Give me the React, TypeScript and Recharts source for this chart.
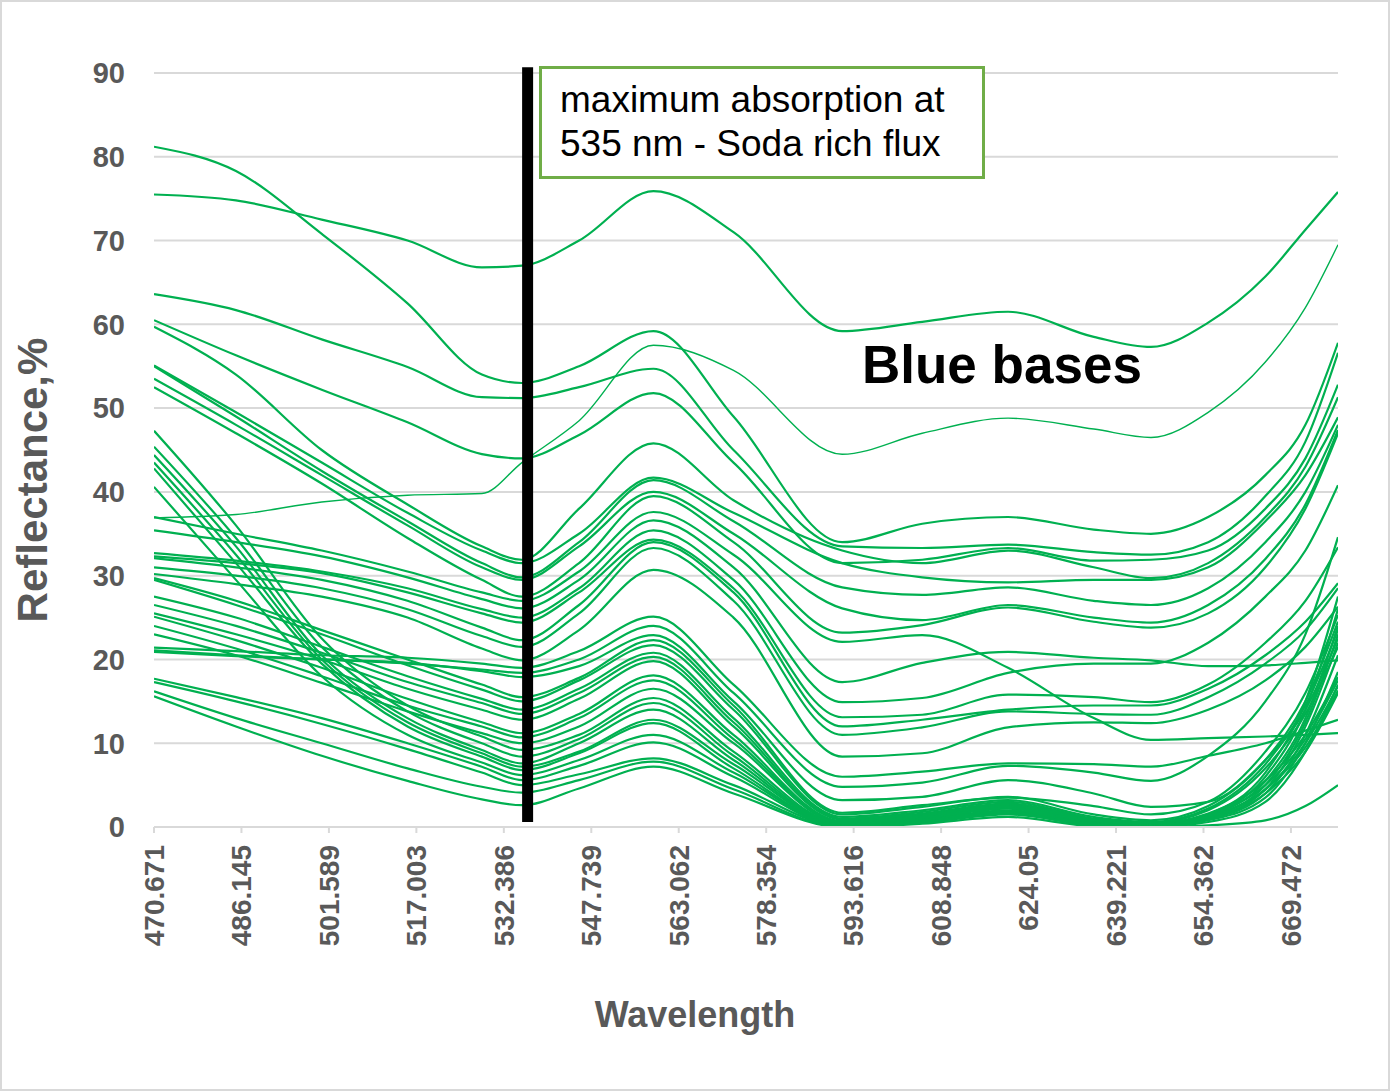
import React from "react";
import { LineChart, Line, XAxis, YAxis, CartesianGrid, ReferenceLine } from "recharts";

// wavelengths (nm) at which every spectrum is sampled
const wavelengths = [470.671, 485, 500, 515, 528, 535, 545, 558, 572, 591, 605, 620, 635, 645, 655, 665, 672, 677.7];

// reflectance, % - upper curves
const spectrum01 = [75.5, 74.8, 72.5, 70, 66.8, 67, 70, 75.9, 71, 59.2, 60.3, 61.5, 58.5, 57.3, 60.2, 65.7, 71.3, 75.8];
const spectrum02 = [81.2, 78.3, 70.8, 62.5, 54, 53, 55, 59.2, 49, 34, 36.2, 37, 35.5, 35, 37, 42, 48, 57.8];
const spectrum03 = [63.6, 61.7, 58.2, 54.9, 51.3, 51.2, 52.5, 54.7, 45, 33.5, 33.3, 33.7, 32.8, 32.5, 34, 39.5, 46, 56.6];
const spectrum04 = [36.9, 37.3, 38.8, 39.6, 39.8, 43.5, 48.5, 57.5, 54.5, 44.5, 47, 48.8, 47.5, 46.5, 49.5, 55.5, 62, 69.5];
const spectrum05 = [60.5, 56.3, 52.2, 48.3, 44.5, 44, 46.8, 51.8, 43.5, 31.5, 31.9, 33.3, 31.8, 31.9, 33, 38, 44, 52.8];

// middle curves
const spectrum06 = [59.7, 54, 45, 38.5, 33.5, 31.9, 38, 45.8, 39, 33, 31.5, 33, 31, 29.7, 31.5, 37, 43, 51.3];
const spectrum07 = [55.1, 49.5, 43.5, 37.5, 33, 31.5, 35, 41.7, 37.5, 31.5, 29.8, 29.2, 29.5, 29.5, 31, 36.5, 42, 48.9];
const spectrum08 = [55, 49, 42.5, 36.5, 31.5, 29.8, 34, 41.4, 36.5, 28.6, 27.7, 28.6, 27, 26.5, 28.5, 34, 40, 48];
const spectrum09 = [53.5, 48, 42, 36, 31, 29.5, 33.5, 40, 35, 26.1, 24.7, 26.5, 25, 24.4, 26.5, 32, 38.5, 47.4];
const spectrum10 = [52.5, 47, 41, 34.5, 29.5, 27.5, 31.5, 39.5, 34, 23.2, 24.1, 26.2, 24.5, 23.8, 25.5, 31, 38, 47];
const spectrum11 = [37, 35, 33, 30.5, 28, 27, 30.5, 37.6, 32.5, 22.1, 22.9, 19, 13, 10.4, 10.6, 10.8, 11, 11.2];
const spectrum12 = [35.4, 34, 32.3, 29.8, 27.2, 26.1, 29.5, 36.6, 31, 17.3, 19.6, 20.9, 20.2, 19.9, 19.2, 19.3, 19.6, 19.9];
const spectrum13 = [32.7, 31.8, 30.5, 28.5, 26, 25, 28.5, 35.4, 29.5, 14.9, 15.4, 18.4, 19.5, 19.5, 22, 27.5, 33, 40.8];
const spectrum14 = [32.3, 31.5, 30.3, 28, 25.5, 24.4, 28, 34.3, 28.5, 13.1, 13.4, 15.8, 15.5, 14.9, 17, 22, 27, 33.4];
const spectrum15 = [32.1, 31, 29.5, 27, 23.8, 22.3, 26.5, 34, 28, 12, 12.8, 14, 14.5, 14.5, 16.5, 20.5, 24.5, 29.1];
const spectrum16 = [31, 30, 28.5, 26, 22.8, 21.5, 25.5, 33.3, 27, 11, 11.9, 13.8, 13.5, 13.4, 15.5, 19.5, 23.5, 28.5];
const spectrum17 = [30.2, 29, 27.5, 25, 21.3, 19.9, 23.5, 30.7, 25, 8.4, 8.8, 11.9, 12.5, 12.4, 14, 17.5, 21.5, 26.3];

// lower curves
const spectrum18 = [21.4, 21, 20.5, 20.2, 19.5, 19, 21, 25.1, 17, 6, 6.6, 7.6, 7.5, 7.2, 8.5, 10, 11.5, 12.8];
const spectrum19 = [21.1, 20.5, 20, 19.5, 18.8, 18.4, 20, 24, 16, 4.8, 5.3, 7.3, 6.5, 5.5, 8.5, 15, 23, 34.6];
const spectrum20 = [20.9, 20.4, 20, 19.6, 18.6, 17.9, 19.2, 22.9, 15, 3.2, 3.6, 5.6, 4, 2.4, 3, 8, 14, 22.5];
const spectrum21 = [29.7, 27, 23.5, 20, 17, 15.5, 17.8, 22.3, 14.5, 1.7, 2.6, 3.5, 2.5, 1.5, 3, 9, 16, 25.3];
const spectrum22 = [29.5, 26.5, 23, 19.3, 16.4, 15, 17.5, 21.7, 14, 1.5, 2.4, 3.6, 1.5, 0.8, 2.5, 8, 15, 24.5];
const spectrum23 = [27.5, 25, 21.5, 18, 15.3, 14, 16.5, 20.8, 13, 1.2, 2, 3.2, 1.2, 0.6, 2.2, 7.5, 14.5, 23.5];
const spectrum24 = [26.5, 24, 20.8, 17.3, 14.8, 13.5, 16, 20.3, 12.5, 1, 1.8, 3, 1, 0.5, 2, 7, 13.5, 21.5];
const spectrum25 = [25.5, 23, 20, 16.5, 14, 12.8, 15.3, 19.8, 12, 0.9, 1.6, 2.8, 0.9, 0.4, 1.6, 5.5, 11, 17.9];
const spectrum26 = [25.1, 22.3, 19, 15.3, 12.5, 11.2, 13.5, 18.1, 11, 0.7, 1.5, 2.7, 0.8, 0.3, 1.5, 5, 10.5, 17.5];
const spectrum27 = [24, 21.3, 18, 14.5, 12, 10.7, 13, 17.5, 10.5, 0.6, 1.4, 2.6, 0.7, 0.3, 1.3, 4.5, 10, 16.8];
const spectrum28 = [23, 20.5, 17.2, 13.8, 11.2, 10, 12, 16.5, 10, 0.5, 1.3, 2.5, 0.6, 0.2, 1.2, 4.5, 9.5, 16.3];
const spectrum29 = [47.3, 36, 22.5, 14.5, 10.8, 9.2, 11, 15.4, 9, 0.4, 1.2, 2.4, 0.5, 0.2, 1.1, 4, 9, 16];
const spectrum30 = [45.4, 34.5, 21.5, 13.8, 10, 8.4, 10.5, 14.8, 8.5, 0.3, 1.1, 2.3, 0.5, 0.1, 1.5, 6.5, 15, 27.5];
const spectrum31 = [44.4, 33.5, 20.5, 13, 9.2, 7.6, 10, 14, 8, 0.3, 1, 2.2, 0.4, 0.1, 1.4, 6, 14, 26];
const spectrum32 = [43.5, 32.5, 20, 12.5, 8.8, 7.2, 9, 12.8, 7.5, 0.2, 0.9, 2, 0.4, 0.1, 1.3, 5.5, 13, 24];
const spectrum33 = [42.8, 31.5, 19.5, 12, 8.4, 6.8, 8.8, 12.4, 7, 0.2, 0.8, 1.9, 0.3, 0.1, 1.2, 5, 12.5, 23];
const spectrum34 = [40.6, 29.5, 18, 11, 7.7, 6.2, 8, 11, 6.5, 0.1, 0.8, 1.8, 0.3, 0, 1, 4.5, 12, 22];
const spectrum35 = [17.7, 15.5, 13, 10, 7.2, 5.6, 7.3, 10.1, 6, 0.1, 0.7, 1.7, 0.3, 0, 0.9, 4, 11, 20.5];
const spectrum36 = [17.3, 15, 12.3, 9.3, 6.5, 5, 6.3, 8.2, 5, 0.1, 0.6, 1.6, 0.2, 0, 0.8, 3.5, 10, 18.5];
const spectrum37 = [16.2, 13, 10, 7, 4.8, 4.1, 5.6, 7.8, 4.5, 0, 0.5, 1.5, 0.2, 0, 0.6, 3, 9, 17];
const spectrum38 = [15.6, 12, 8.5, 5.5, 3.3, 2.6, 4.6, 7.2, 4, 0, 0.4, 1.2, 0.1, 0, 0.2, 0.8, 2.5, 5];

const spectra = [
  spectrum01, spectrum02, spectrum03, spectrum04, spectrum05, spectrum06, spectrum07, spectrum08,
  spectrum09, spectrum10, spectrum11, spectrum12, spectrum13, spectrum14, spectrum15, spectrum16,
  spectrum17, spectrum18, spectrum19, spectrum20, spectrum21, spectrum22, spectrum23, spectrum24,
  spectrum25, spectrum26, spectrum27, spectrum28, spectrum29, spectrum30, spectrum31, spectrum32,
  spectrum33, spectrum34, spectrum35, spectrum36, spectrum37, spectrum38,
];

// this one is drawn with a thinner line
const thinSpectrum = 3;

const xTickLabels = [
  "470.671", "486.145", "501.589", "517.003", "532.386", "547.739", "563.062",
  "578.354", "593.616", "608.848", "624.05", "639.221", "654.362", "669.472",
];
const yTicks = [0, 10, 20, 30, 40, 50, 60, 70, 80, 90];

const absorptionLine = 536;
const xDomain: [number, number] = [470.671, 677.7];

// category-style ticks: evenly spaced between first and last label
const firstTick = Number(xTickLabels[0]);
const lastTick = Number(xTickLabels[xTickLabels.length - 1]);
const tickStep = (lastTick - firstTick) / (xTickLabels.length - 1);
const xTickPositions = xTickLabels.map((_, i) => firstTick + i * tickStep);

const chartData = wavelengths.map((w, i) => {
  const row: any = { w };
  spectra.forEach((s, k) => {
    row[`s${k}`] = s[i];
  });
  return row;
});

const FONT = "'Liberation Sans', Arial, sans-serif";
const AXIS_GRAY = "#595959";
const GRID_GRAY = "#D9D9D9";
const LINE_GREEN = "#00B050";

function WavelengthTick({ x, y, payload }: any) {
  const idx = Math.round((payload.value - firstTick) / tickStep);
  return (
    <text
      x={x}
      y={y}
      transform={`rotate(-90, ${x}, ${y})`}
      textAnchor="end"
      dy="0.35em"
      fill={AXIS_GRAY}
      fontSize={28}
      fontWeight="bold"
      fontFamily={FONT}
    >
      {xTickLabels[idx]}
    </text>
  );
}

export default function App() {
  return (
    <div
      style={{
        position: "absolute",
        left: 0,
        top: 0,
        width: 1390,
        height: 1091,
        background: "#fff",
        fontFamily: FONT,
        overflow: "hidden",
      }}
    >
      <LineChart
        width={1390}
        height={1091}
        data={chartData}
        margin={{ top: 73, right: 52, left: 0, bottom: 0 }}
      >
        <CartesianGrid vertical={false} stroke={GRID_GRAY} strokeWidth={2} />
        <XAxis
          dataKey="w"
          type="number"
          domain={xDomain}
          allowDataOverflow
          ticks={xTickPositions}
          interval={0}
          height={264}
          tickSize={6}
          tickMargin={12}
          axisLine={{ stroke: GRID_GRAY, strokeWidth: 2 }}
          tickLine={{ stroke: GRID_GRAY, strokeWidth: 2 }}
          tick={<WavelengthTick />}
        />
        <YAxis
          type="number"
          domain={[0, 90]}
          ticks={yTicks}
          interval={0}
          width={154}
          axisLine={false}
          tickLine={false}
          tickSize={6}
          tickMargin={23}
          tick={{ fill: AXIS_GRAY, fontSize: 29, fontWeight: "bold", fontFamily: FONT }}
        />
        {spectra.map((_, k) => (
          <Line
            key={k}
            dataKey={`s${k}`}
            type="monotone"
            stroke={LINE_GREEN}
            strokeWidth={k === thinSpectrum ? 1.4 : 2.2}
            dot={false}
            activeDot={false}
            isAnimationActive={false}
          />
        ))}
        <ReferenceLine
          segment={[
            { x: absorptionLine, y: 0.6 },
            { x: absorptionLine, y: 90.7 },
          ]}
          stroke="#000"
          strokeWidth={11}
          ifOverflow="visible"
        />
      </LineChart>

      {/* annotation box */}
      <div
        style={{
          position: "absolute",
          left: 539,
          top: 66,
          width: 446,
          height: 113,
          border: "3px solid #70AD47",
          boxSizing: "border-box",
          background: "#fff",
          paddingLeft: 18,
          paddingTop: 9,
          fontSize: 37,
          lineHeight: "44px",
          color: "#000",
          whiteSpace: "nowrap",
        }}
      >
        maximum absorption at
        <br />
        535 nm - Soda rich flux
      </div>

      <div
        style={{
          position: "absolute",
          left: 862,
          top: 338,
          fontSize: 53,
          lineHeight: "53px",
          fontWeight: "bold",
          color: "#000",
          whiteSpace: "nowrap",
        }}
      >
        Blue bases
      </div>

      {/* axis titles */}
      <div
        style={{
          position: "absolute",
          left: 33 - 200,
          top: 480 - 21,
          width: 400,
          height: 42,
          lineHeight: "42px",
          textAlign: "center",
          fontSize: 42,
          fontWeight: "bold",
          color: AXIS_GRAY,
          transform: "rotate(-90deg)",
          whiteSpace: "nowrap",
        }}
      >
        Reflectance,%
      </div>
      <div
        style={{
          position: "absolute",
          left: 695 - 200,
          top: 997,
          width: 400,
          textAlign: "center",
          fontSize: 36,
          lineHeight: "36px",
          fontWeight: "bold",
          color: AXIS_GRAY,
          whiteSpace: "nowrap",
        }}
      >
        Wavelength
      </div>

      <div
        style={{
          position: "absolute",
          left: 0,
          top: 0,
          width: 1390,
          height: 1091,
          border: `2px solid ${GRID_GRAY}`,
          boxSizing: "border-box",
          pointerEvents: "none",
        }}
      />
    </div>
  );
}
